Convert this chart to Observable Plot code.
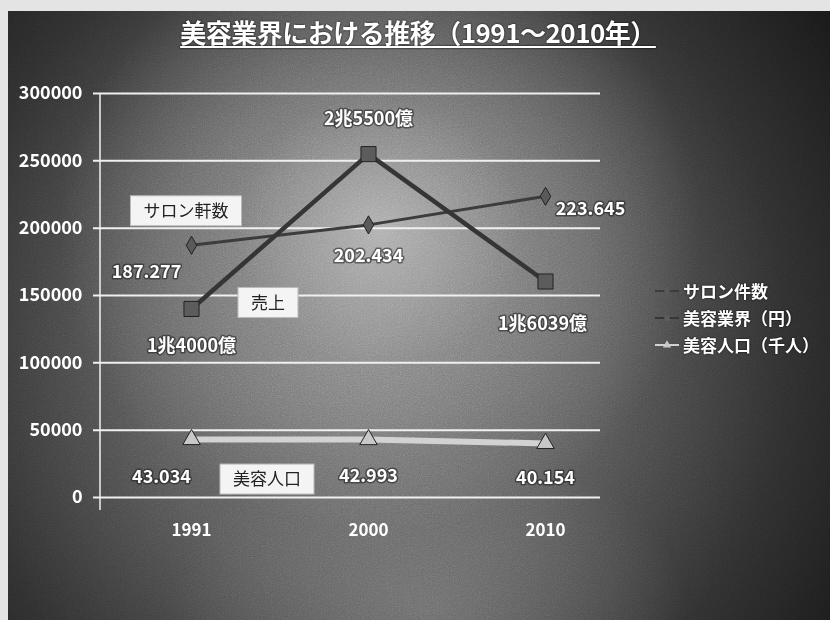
<!DOCTYPE html>
<html><head><meta charset="utf-8">
<script src="https://cdn.jsdelivr.net/npm/d3@7"></script>
<script src="https://cdn.jsdelivr.net/npm/@observablehq/plot@0.6"></script>
<style>
html,body{margin:0;padding:0;width:830px;height:620px;overflow:hidden;background:#e4e4e4;font-family:"Noto Sans CJK JP","Noto Sans",sans-serif;}
#bg{position:absolute;left:8px;top:11px;width:822px;height:609px;
 background:
  radial-gradient(ellipse 320px 300px at 372px 220px, rgba(195,195,195,0.75) 0%, rgba(150,150,150,0.45) 45%, rgba(0,0,0,0) 100%),
  radial-gradient(ellipse 260px 170px at 420px 600px, rgba(130,130,130,0.55) 0%, rgba(0,0,0,0) 100%),
  radial-gradient(ellipse 580px 620px at 360px 330px, #7a7a7a 0%, #585858 40%, #2e2e2e 72%, #141414 100%);}
#noise{position:absolute;left:8px;top:11px;width:822px;height:609px;opacity:0.45;mix-blend-mode:overlay;
 background-image:url("data:image/svg+xml;utf8,<svg xmlns='http://www.w3.org/2000/svg' width='822' height='609'><filter id='n'><feTurbulence type='fractalNoise' baseFrequency='0.9' numOctaves='2' stitchTiles='stitch'/><feColorMatrix type='saturate' values='0'/></filter><rect width='100%' height='100%' filter='url(%23n)'/></svg>");}
#title{position:absolute;left:0;top:13px;width:836px;text-align:center;color:#fff;font-weight:bold;font-size:26px;text-decoration:underline;text-decoration-thickness:2px;text-underline-offset:3px;text-shadow:0 0 2px #000;letter-spacing:-0.5px;}
#chart{position:absolute;left:0;top:60px;}
#legend{position:absolute;left:654px;top:277px;color:#fff;font-weight:bold;font-size:17px;line-height:27px;text-shadow:0 0 2px #000;}
#legend .row{display:flex;align-items:center;white-space:nowrap;}
#legend svg{margin-right:3px;}
</style></head>
<body>
<div id="bg"></div>
<div id="noise"></div>
<div id="title"></div>
<div id="chart"></div>
<div id="legend"></div>
<script>
// ---- data ----
const titleText = "美容業界における推移（1991～2010年）";
const years = ["1991", "2000", "2010"];
const salonCounts = [187277, 202434, 223645];
const salonLabels = ["187.277", "202.434", "223.645"];
const salesValues = [140000, 255000, 160390];
const salesLabels = ["1兆4000億", "2兆5500億", "1兆6039億"];
const popValues = [43034, 42993, 40154];
const popLabels = ["43.034", "42.993", "40.154"];
const yTicks = [0, 50000, 100000, 150000, 200000, 250000, 300000];
const seriesKeys = ["salon", "sales", "pop"];
const legendNames = ["サロン件数", "美容業界（円）", "美容人口（千人）"];
const calloutTexts = ["サロン軒数", "売上", "美容人口"];

// ---- styles / layout ----
const style = {
  salon: {stroke: "#3c3c3c", width: 3, symbol: "diamond", r: 5.5, fill: "#5a5a5a"},
  sales: {stroke: "#353535", width: 4.5, symbol: "square", r: 8.5, fill: "#5c5c5c"},
  pop:   {stroke: "#d2d2d2", width: 6, symbol: "triangle", r: 6.5, fill: "#c8c8c8"}
};
const labelOffsets = {
  salon: [[-45, 27], [0, 31], [45, 13]],
  sales: [[0, 37], [0, -35], [-3, 43]],
  pop:   [[-30, 38], [0, 37], [0, 35]]
};
const calloutOffsets = [[-5, -34], [77, -6], [76, 40]];

const values = {salon: salonCounts, sales: salesValues, pop: popValues};
const labels = {salon: salonLabels, sales: salesLabels, pop: popLabels};

const rows = seriesKeys.flatMap(s => years.map((y, i) => ({series: s, year: y, value: values[s][i], label: labels[s][i], i})));

document.getElementById("title").textContent = titleText;

const font = '"Noto Sans CJK JP", "Noto Sans", sans-serif';
const marks = [
  Plot.ruleY(yTicks, {stroke: "#f0f0f0", strokeWidth: 2, insetLeft: -7}),
  (index, scales, vals, dim) => {
    const g = d3.create("svg:line")
      .attr("x1", dim.marginLeft).attr("x2", dim.marginLeft)
      .attr("y1", dim.marginTop).attr("y2", dim.height - dim.marginBottom + 13)
      .attr("stroke", "#f0f0f0").attr("stroke-width", 1.5);
    return g.node();
  },
  Plot.axisY({ticks: yTicks, tickFormat: d => String(d), tickSize: 0, tickPadding: 18, fontSize: 18, fontWeight: "bold", fill: "#fff", label: null}),
  Plot.axisX({tickSize: 0, tickPadding: 26, fontSize: 17, fontWeight: "bold", fill: "#fff", label: null})
];
for (const s of seriesKeys) {
  const data = rows.filter(d => d.series === s);
  const st = style[s];
  marks.push(Plot.line(data, {x: "year", y: "value", stroke: st.stroke, strokeWidth: st.width}));
  marks.push(Plot.dot(data, {x: "year", y: "value", symbol: st.symbol, r: st.r, fill: st.fill, stroke: "#222", strokeWidth: 1}));
  data.forEach((d, i) => {
    const [dx, dy] = labelOffsets[s][i];
    marks.push(Plot.text([d], {x: "year", y: "value", text: "label", dx, dy, fill: "#fff", stroke: "rgba(30,30,30,0.55)", strokeWidth: 3, fontSize: 18, fontWeight: "bold"}));
  });
}
// callout boxes anchored to the first point of each series
marks.push((index, scales, vals, dim) => {
  const g = d3.create("svg:g");
  seriesKeys.forEach((s, k) => {
    const text = calloutTexts[k];
    const cx = scales.x(years[0]) + calloutOffsets[k][0];
    const cy = scales.y(values[s][0]) + calloutOffsets[k][1];
    const fs = 17;
    const w = text.length * fs + 26, h = 30;
    g.append("rect").attr("x", cx - w / 2).attr("y", cy - h / 2).attr("width", w).attr("height", h)
      .attr("fill", "#f4f4f4").attr("stroke", "#bbb");
    g.append("text").attr("x", cx).attr("y", cy).attr("text-anchor", "middle").attr("dy", "0.36em")
      .attr("font-size", fs).attr("fill", "#222").attr("font-family", font).text(text);
  });
  return g.node();
});

const plot = Plot.plot({
  width: 830, height: 540,
  marginLeft: 100, marginRight: 230, marginTop: 33, marginBottom: 103,
  style: {background: "transparent", color: "#fff", fontFamily: font, overflow: "visible"},
  x: {type: "point", domain: years, range: [190, 545], padding: 0, label: null},
  y: {domain: [0, 300000], label: null},
  marks
});
document.getElementById("chart").appendChild(plot);

// legend
const legend = d3.select("#legend");
seriesKeys.forEach((s, k) => {
  const row = legend.append("div").attr("class", "row");
  const sw = row.append("svg").attr("width", 26).attr("height", 14);
  const st = style[s];
  sw.append("line").attr("x1", 1).attr("x2", 25).attr("y1", 7).attr("y2", 7).attr("stroke", st.stroke).attr("stroke-width", 2);
  sw.append("path").attr("transform", "translate(13,7)").attr("d", d3.symbol(s === "salon" ? d3.symbolDiamond : s === "sales" ? d3.symbolSquare : d3.symbolTriangle, 30)()).attr("fill", st.fill);
  row.append("span").text(legendNames[k]);
});
</script>
</body></html>
